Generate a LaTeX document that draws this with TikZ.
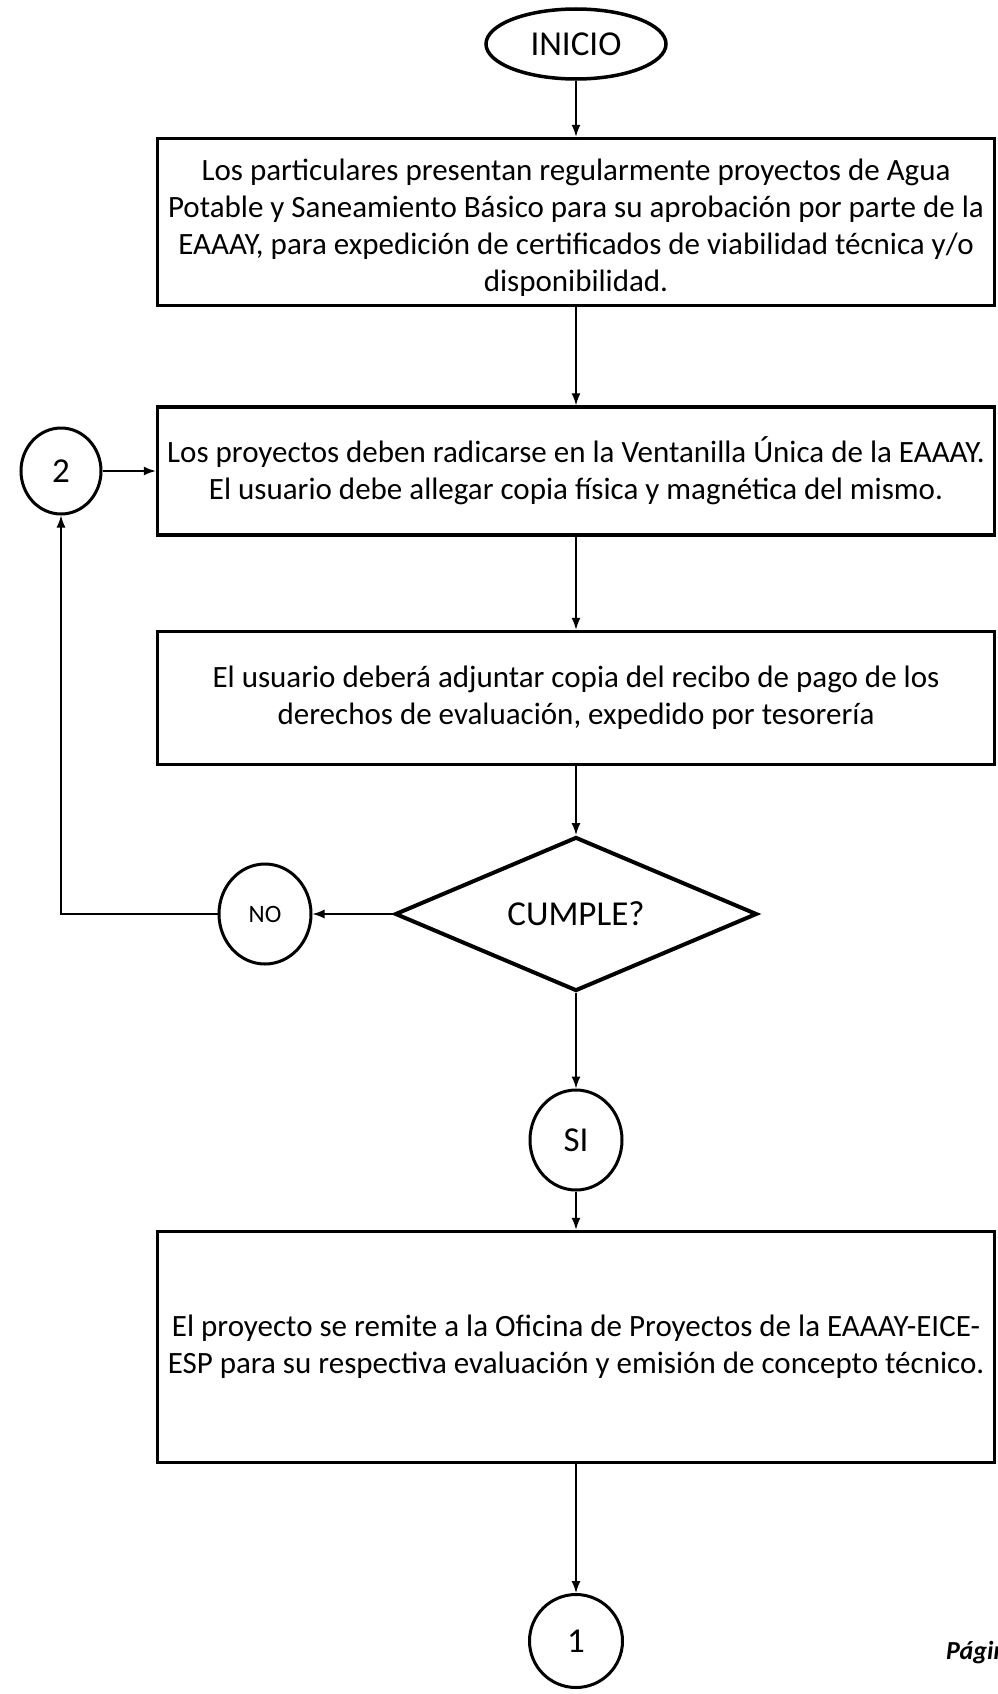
\documentclass[tikz,border=0pt]{standalone}
\usepackage{fontspec}
\setmainfont{Carlito}
\usetikzlibrary{shapes.geometric,arrows.meta}
\begin{document}
\begin{tikzpicture}[x=1pt,y=-1pt,
  txt/.style={font=\fontsize{31}{37}\selectfont},
  big/.style={font=\fontsize{35}{40}\selectfont},
  proc/.style={draw,line width=3.5pt,minimum width=837pt,minimum height=#1,align=center,inner sep=0pt,txt},
  term/.style={draw,ellipse,line width=3.5pt,minimum width=180pt,minimum height=70pt,inner sep=0pt,big},
  conn/.style={draw,ellipse,line width=3pt,inner sep=0pt,txt},
  dec/.style={draw,diamond,line width=4pt,minimum width=362pt,minimum height=154pt,inner sep=0pt,aspect=2.35},
  arr/.style={line width=1.4pt,-{Latex[length=12pt,width=9pt]}}
]
\useasboundingbox (0,0) rectangle (998,1694);
\node[term] (inicio) at (576,44) {INICIO};
\node[proc=167pt] (b1) at (576,222) {};
\node[txt,align=center] (b1t) at (576,228) {Los particulares presentan regularmente proyectos de Agua\\Potable y Saneamiento Básico para su aprobación por parte de la\\EAAAY, para expedición de certificados de viabilidad técnica y/o\\disponibilidad.};
\node[proc=128pt] (b2) at (576,471) {Los proyectos deben radicarse en la Ventanilla Única de la EAAAY.\\El usuario debe allegar copia física y magnética del mismo.};
\node[conn,minimum width=80pt,minimum height=86pt,big] (c2) at (61,471) {2};
\node[proc=133pt] (b3) at (576,698) {El usuario deberá adjuntar copia del recibo de pago de los\\derechos de evaluación, expedido por tesorería};
\node[dec] (dec) at (576,914) {};
\node[big] (dect) at (576,914) {CUMPLE?};
\node[conn,minimum width=92pt,minimum height=100pt,font=\fontsize{25}{28}\selectfont] (no) at (265,914) {NO};
\node[conn,minimum width=92pt,minimum height=100pt,big] (si) at (576,1140) {SI};
\node[proc=231pt] (b4) at (576,1347) {El proyecto se remite a la Oficina de Proyectos de la EAAAY-EICE-\\ESP para su respectiva evaluación y emisión de concepto técnico.};
\node[conn,minimum width=93pt,minimum height=93pt,big] (c1) at (576,1641) {1};
\begin{scope}
\clip (0,0) rectangle (998,1694);
\node[anchor=base west,font=\fontsize{26}{28}\selectfont\itshape\bfseries,inner sep=0pt] (pag) at (946,1659) {Página};
\end{scope}
\draw[arr] (inicio.south) -- (b1.north);
\draw[arr] (b1.south) -- (b2.north);
\draw[arr] (c2.east) -- (c2.east -| b2.west);
\draw[arr] (b2.south) -- (b3.north);
\draw[arr] (b3.south) -- (dec.north);
\draw[arr] (dec.west) -- (no.east);
\draw[arr] (no.west) -| (c2.south);
\draw[arr] (dec.south) -- (si.north);
\draw[arr] (si.south) -- (b4.north);
\draw[arr] (b4.south) -- (c1.north);
\end{tikzpicture}
\end{document}
